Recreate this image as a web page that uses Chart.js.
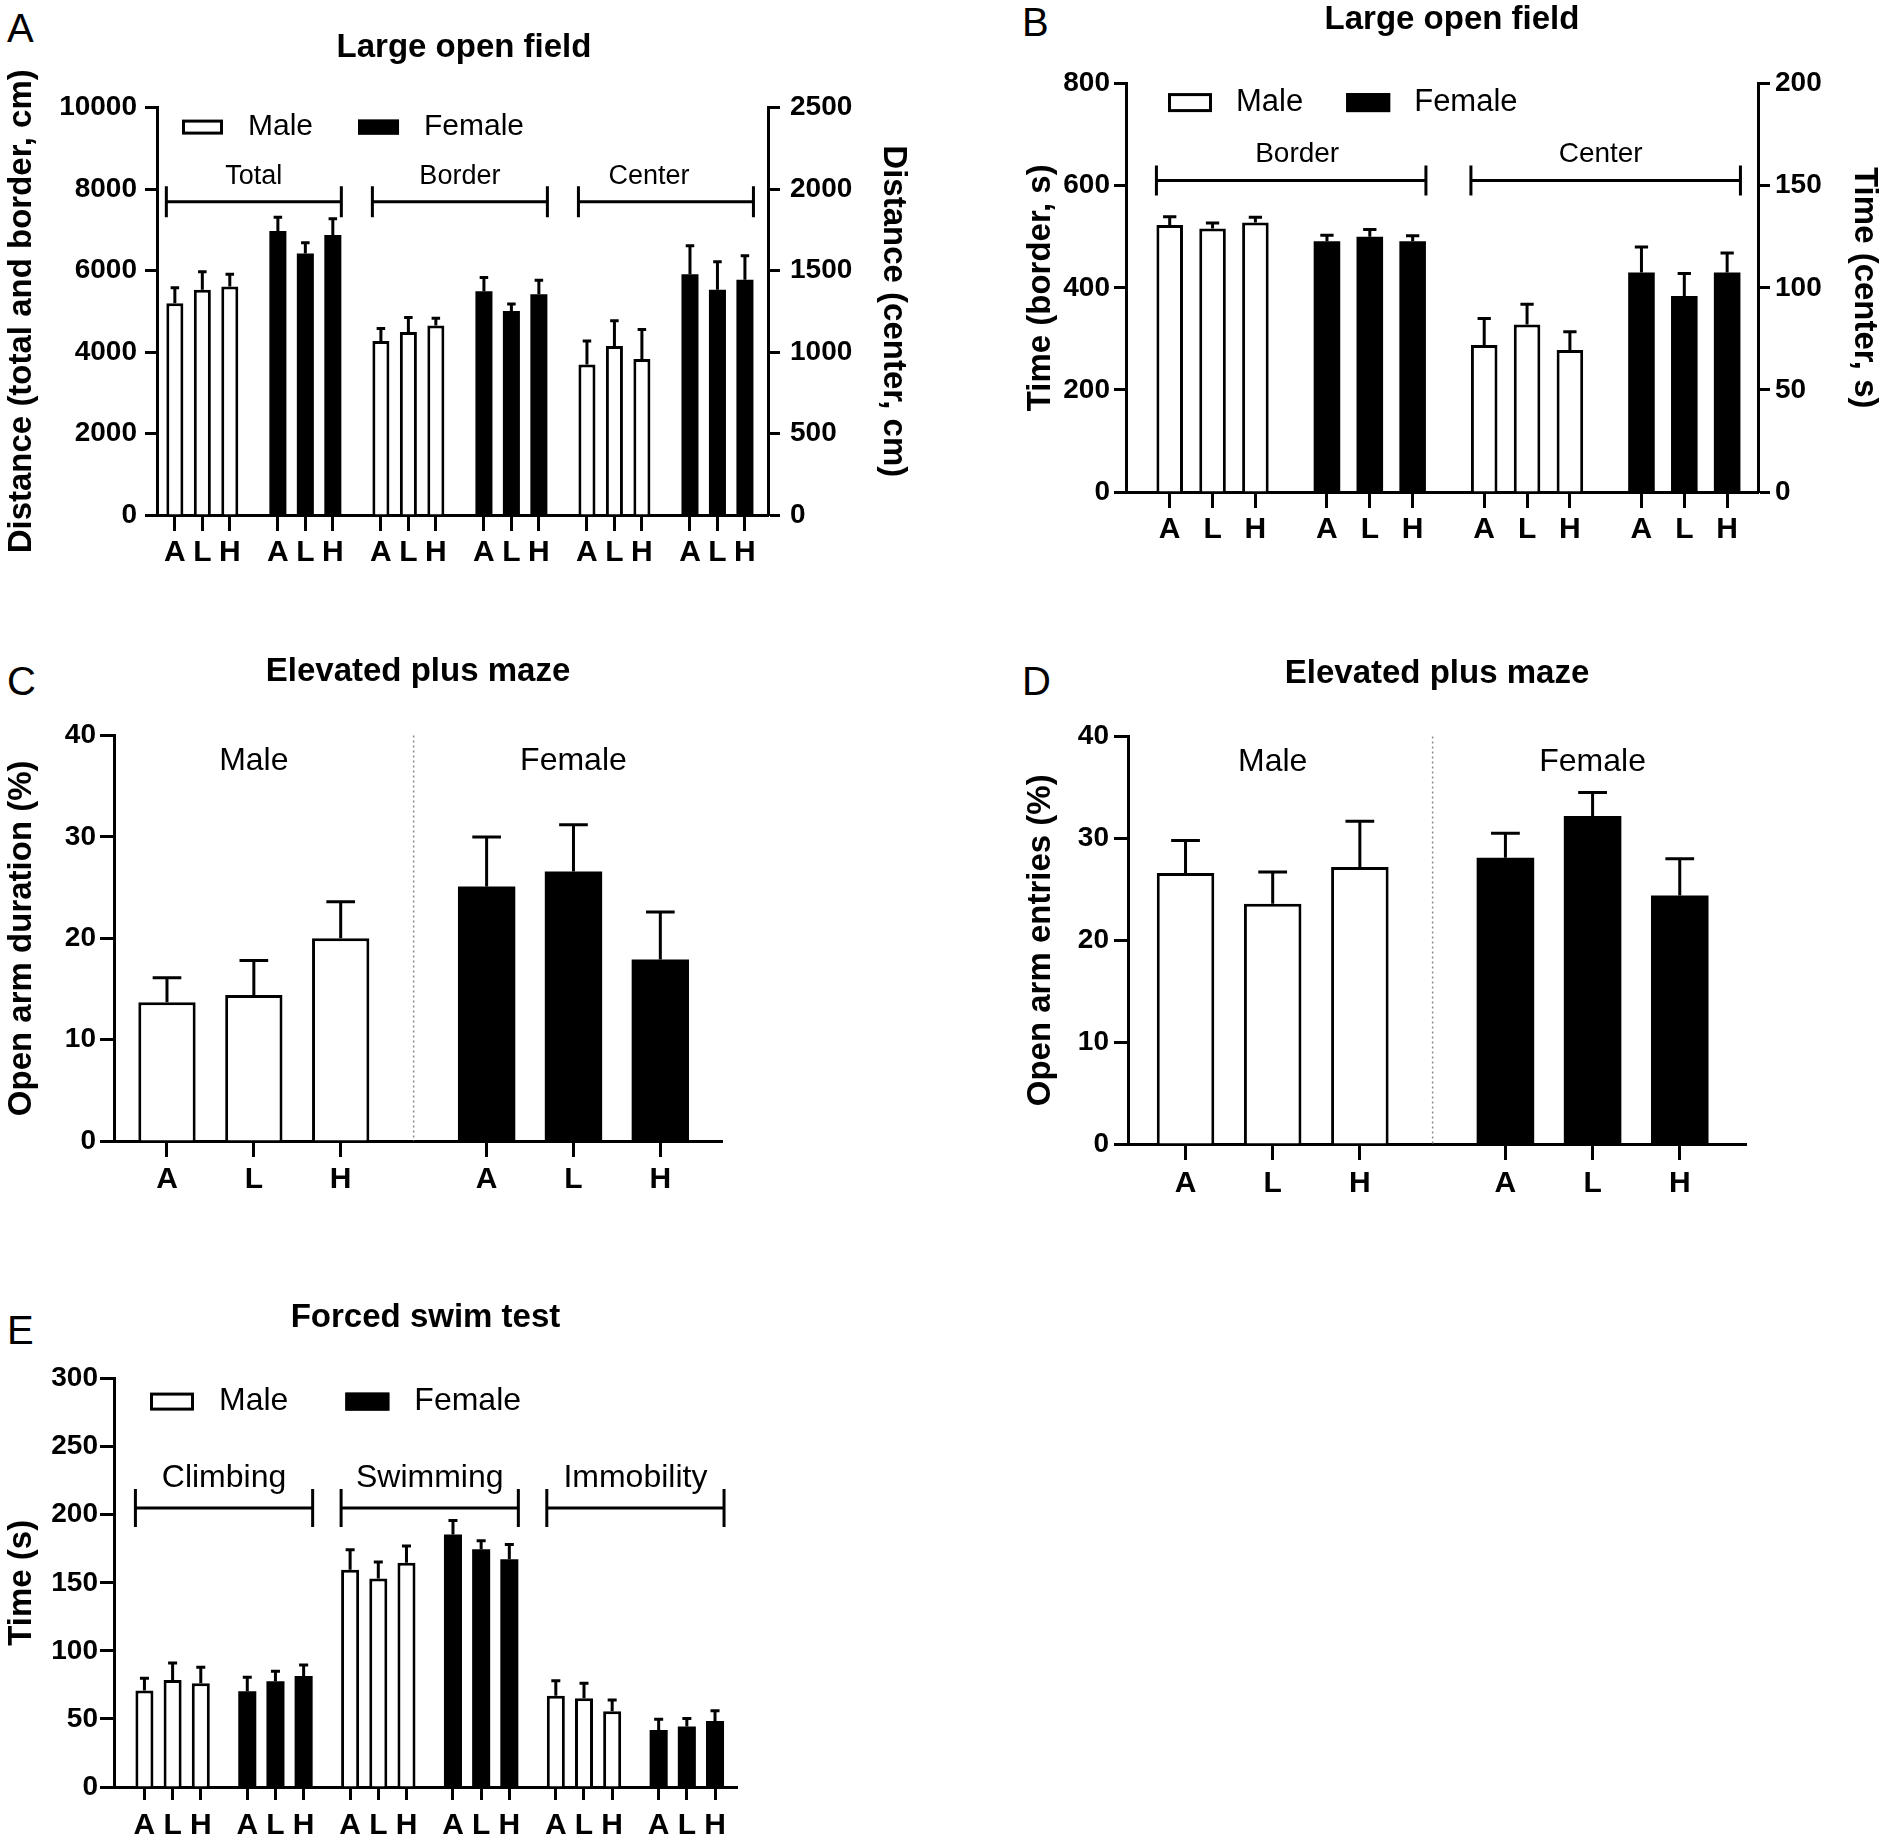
<!DOCTYPE html>
<html>
<head>
<meta charset="utf-8">
<script src="https://cdn.jsdelivr.net/npm/chart.js@4.4.1/dist/chart.umd.min.js"></script>
<style>
  body { margin: 0; background: #fff; width: 1888px; height: 1841px; position: relative; overflow: hidden;
         font-family: "Liberation Sans", Arial, sans-serif; }
  canvas { position: absolute; }
  .letter { position: absolute; font-size: 40px; line-height: 1; color: #000; }
</style>
</head>
<body>
<div class="letter" style="left:7px;top:8px">A</div>
<div class="letter" style="left:1022px;top:2px">B</div>
<div class="letter" style="left:7px;top:661px">C</div>
<div class="letter" style="left:1022px;top:661px">D</div>
<div class="letter" style="left:7px;top:1310px">E</div>

<canvas id="chartA" width="928" height="585" style="left:0;top:0"></canvas>
<canvas id="chartB" width="868" height="562" style="left:1020px;top:0"></canvas>
<canvas id="chartC" width="740" height="596" style="left:0;top:620px"></canvas>
<canvas id="chartD" width="746" height="599" style="left:1020px;top:620px"></canvas>
<canvas id="chartE" width="760" height="581" style="left:0;top:1260px"></canvas>

<script>
// dose groups on every x axis
const doses = ['A', 'L', 'H'];

// A: large open field, distance (cm). Total and Border on left axis, Center on right axis
const distGroups = ['Total', 'Border', 'Center'];
const distMale      = [5200, 5530, 5610, 4270, 4490, 4650, 923, 1037, 957];
const distMaleSem   = [380, 440, 300, 310, 360, 180, 144, 155, 182];
const distFemale    = [6970, 6420, 6870, 5490, 5010, 5420, 1477, 1383, 1443];
const distFemaleSem = [340, 260, 400, 340, 170, 340, 175, 171, 148];

// B: large open field, time (s). Border on left axis, Center on right axis
const timeGroups = ['Border', 'Center'];
const timeMale      = [523, 516, 528, 72, 82, 69.5];
const timeMaleSem   = [16, 11, 10, 13, 10, 9];
const timeFemale    = [491, 500, 491, 107.5, 96, 107.5];
const timeFemaleSem = [12, 14, 11, 12.5, 11, 9.5];

// C: elevated plus maze, open arm duration (%)
const durMale      = [13.7, 14.4, 20.0];
const durMaleSem   = [2.4, 3.4, 3.6];
const durFemale    = [25.1, 26.6, 17.9];
const durFemaleSem = [4.9, 4.6, 4.7];

// D: elevated plus maze, open arm entries (%)
const entMale      = [26.6, 23.6, 27.2];
const entMaleSem   = [3.2, 3.1, 4.5];
const entFemale    = [28.1, 32.2, 24.4];
const entFemaleSem = [2.4, 2.3, 3.6];

// E: forced swim test, time (s)
const swimGroups = ['Climbing', 'Swimming', 'Immobility'];
const swimMale      = [70.9, 78.6, 76.3, 159.6, 153.1, 164.7, 67.0, 65.2, 55.6];
const swimMaleSem   = [9.0, 12.4, 11.6, 14.7, 12.1, 12.4, 11.1, 11.1, 8.3];
const swimFemale    = [70.3, 77.6, 81.5, 185.4, 174.6, 167.3, 41.9, 44.5, 48.4];
const swimFemaleSem = [10.4, 7.5, 8.2, 10.4, 6.2, 10.9, 7.8, 5.9, 7.7];

const FONT = '"Liberation Sans", Arial, sans-serif';
Chart.defaults.font.family = FONT;
Chart.defaults.color = '#000';

// x position of bar i inside cluster c (clusters: male/female per group)
function barX(c, i, gap) { return c * (2 + gap) + i; }

function pts(vals, sex, firstGroup, gap) {
  return vals.map((v, j) => ({ x: barX(2 * (firstGroup + Math.floor(j / 3)) + sex, j % 3, gap), y: v }));
}

function barSet(label, vals, sem, sex, firstGroup, gap, axis, pct) {
  return {
    label: label, data: pts(vals, sex, firstGroup, gap), sem: sem, yAxisID: axis,
    backgroundColor: sex ? '#000' : '#fff', borderColor: '#000', borderWidth: sex ? 0 : 3,
    grouped: false, barPercentage: pct || 0.62, categoryPercentage: 1
  };
}

// error bars: upper SEM only, with a cap
const errorBars = {
  id: 'errorBars',
  afterDatasetsDraw(chart) {
    const ctx = chart.ctx;
    chart.data.datasets.forEach((ds, i) => {
      if (!ds.sem) return;
      const meta = chart.getDatasetMeta(i);
      const ys = chart.scales[meta.yAxisID];
      ctx.save();
      ctx.strokeStyle = '#000';
      ctx.lineWidth = 3;
      meta.data.forEach((bar, j) => {
        const top = ys.getPixelForValue(ds.data[j].y + ds.sem[j]);
        const half = bar.width * 0.25;
        ctx.beginPath();
        ctx.moveTo(bar.x, bar.y);
        ctx.lineTo(bar.x, top);
        ctx.moveTo(bar.x - half, top);
        ctx.lineTo(bar.x + half, top);
        ctx.stroke();
      });
      ctx.restore();
    });
  }
};

// horizontal brackets with a label over each measure
const brackets = {
  id: 'brackets',
  afterDraw(chart, args, o) {
    if (!o.groups) return;
    const ctx = chart.ctx, xs = chart.scales.x, ys = chart.scales.y;
    const half = chart.getDatasetMeta(0).data[0].width / 2;
    const py = ys.getPixelForValue(o.y);
    ctx.save();
    ctx.strokeStyle = '#000';
    ctx.fillStyle = '#000';
    ctx.lineWidth = 3;
    ctx.font = o.size + 'px ' + FONT;
    ctx.textAlign = 'center';
    ctx.textBaseline = 'middle';
    o.groups.forEach((label, k) => {
      const x0 = xs.getPixelForValue(barX(2 * k, 0, o.gap)) - half;
      const x1 = xs.getPixelForValue(barX(2 * k + 1, 2, o.gap)) + half;
      ctx.beginPath();
      ctx.moveTo(x0, py); ctx.lineTo(x1, py);
      ctx.moveTo(x0, py - o.cap); ctx.lineTo(x0, py + o.cap);
      ctx.moveTo(x1, py - o.cap); ctx.lineTo(x1, py + o.cap);
      ctx.stroke();
      const shift = o.labelShift ? o.labelShift[k] : 0;
      ctx.fillText(label, (x0 + x1) / 2 + shift, py - o.labelGap);
    });
    ctx.restore();
  }
};

// legend drawn inside the plot area
const insideLegend = {
  id: 'insideLegend',
  afterDraw(chart, args, o) {
    if (!o.items) return;
    const ctx = chart.ctx, ca = chart.chartArea;
    let x = ca.left + o.x;
    const cy = ca.top + o.y;
    ctx.save();
    ctx.font = o.size + 'px ' + FONT;
    ctx.textBaseline = 'middle';
    o.items.forEach(idx => {
      const ds = chart.data.datasets[idx];
      ctx.fillStyle = ds.backgroundColor;
      ctx.fillRect(x, cy - o.boxH / 2, o.boxW, o.boxH);
      ctx.strokeStyle = '#000';
      ctx.lineWidth = 3;
      ctx.strokeRect(x + 1.5, cy - o.boxH / 2 + 1.5, o.boxW - 3, o.boxH - 3);
      x += o.boxW + o.textGap;
      ctx.fillStyle = '#000';
      ctx.fillText(ds.label, x, cy);
      x += ctx.measureText(ds.label).width + o.itemGap;
    });
    ctx.restore();
  }
};

// dotted divider and sex labels (C, D)
const sexSplit = {
  id: 'sexSplit',
  afterDraw(chart, args, o) {
    if (!o.labels) return;
    const ctx = chart.ctx, ca = chart.chartArea, xs = chart.scales.x, ys = chart.scales.y;
    const px = xs.getPixelForValue((barX(0, 2, o.gap) + barX(1, 0, o.gap)) / 2);
    ctx.save();
    ctx.strokeStyle = '#8a8a8a';
    ctx.lineWidth = 1.5;
    ctx.setLineDash([2, 3]);
    ctx.beginPath();
    ctx.moveTo(px, ca.top);
    ctx.lineTo(px, ca.bottom);
    ctx.stroke();
    ctx.setLineDash([]);
    ctx.fillStyle = '#000';
    ctx.font = o.size + 'px ' + FONT;
    ctx.textAlign = 'center';
    ctx.textBaseline = 'middle';
    o.labels.forEach((t, c) => {
      ctx.fillText(t, xs.getPixelForValue(barX(c, 1, o.gap)), ys.getPixelForValue(o.y));
    });
    ctx.restore();
  }
};

function xAxis(o) {
  const pos = [];
  for (let c = 0; c < o.clusters; c++) for (let i = 0; i < 3; i++) pos.push(barX(c, i, o.gap));
  return {
    type: 'linear', offset: false, min: o.xMin, max: pos[pos.length - 1] + o.xEnd,
    afterBuildTicks: s => { s.ticks = pos.map(value => ({ value })); },
    afterFit: s => { s.height = o.xHeight; },
    ticks: { autoSkip: false, maxRotation: 0, padding: o.xPad, color: '#000',
             font: { size: 30, weight: 'bold' }, callback: (v, i) => doses[i % 3] },
    grid: { offset: false, drawOnChartArea: false, tickLength: o.xTick, tickWidth: 3, tickColor: '#000' },
    border: { color: '#000', width: 3 }
  };
}

function yAxis(position, a) {
  return {
    type: 'linear', position: position, min: 0, max: a.max,
    afterFit: s => { s.width = a.width; },
    ticks: { stepSize: a.step, padding: a.pad, color: '#000', font: { size: 28, weight: 'bold' },
             callback: v => String(v) },
    grid: { drawOnChartArea: false, tickLength: a.tick, tickWidth: 3, tickColor: '#000' },
    border: { color: '#000', width: 3 },
    title: { display: true, text: a.title, color: '#000', font: { size: 33, weight: 'bold' },
             padding: { top: a.titlePad, bottom: 0 } }
  };
}

function panel(id, o) {
  const scales = { x: xAxis(o), y: yAxis('left', o.left) };
  if (o.right) scales.y2 = yAxis('right', o.right);
  return new Chart(document.getElementById(id), {
    type: 'bar',
    data: { datasets: o.datasets },
    options: {
      responsive: false, animation: false, devicePixelRatio: 1,
      layout: { padding: o.padding || 0 },
      scales: scales,
      plugins: {
        legend: { display: false },
        tooltip: { enabled: false },
        title: { display: true, text: o.title, color: '#000', font: { size: 33, weight: 'bold' },
                 padding: o.titlePad, fullSize: o.fullTitle },
        insideLegend: o.legend || {},
        brackets: o.brackets || {},
        sexSplit: o.split || {}
      }
    },
    plugins: [errorBars, brackets, insideLegend, sexSplit]
  });
}

// ---- A ----
const gapA = 1.75;
panel('chartA', {
  title: 'Large open field', titlePad: { top: 28, bottom: 40 }, fullTitle: true,
  clusters: 6, gap: gapA, xMin: -0.65, xEnd: 0.84, xHeight: 70, xTick: 16, xPad: 4,
  left: { max: 10000, step: 2000, title: 'Distance (total and border, cm)', titlePad: 2, tick: 12, pad: 8, width: 157 },
  right: { max: 2500, step: 500, title: 'Distance (center, cm)', titlePad: 15, tick: 12, pad: 10, width: 160 },
  datasets: [
    barSet('Male', distMale.slice(0, 6), distMaleSem.slice(0, 6), 0, 0, gapA, 'y'),
    barSet('Female', distFemale.slice(0, 6), distFemaleSem.slice(0, 6), 1, 0, gapA, 'y'),
    barSet('Male', distMale.slice(6), distMaleSem.slice(6), 0, 2, gapA, 'y2'),
    barSet('Female', distFemale.slice(6), distFemaleSem.slice(6), 1, 2, gapA, 'y2')
  ],
  legend: { items: [0, 1], x: 25, y: 19.5, boxW: 41, boxH: 15, textGap: 25, itemGap: 45, size: 30 },
  brackets: { groups: distGroups, gap: gapA, y: 7690, cap: 15.5, labelGap: 25, size: 27, labelShift: [0, 0, -17] }
});

// ---- B ----
const gapB = 1.67;
panel('chartB', {
  title: 'Large open field', titlePad: { top: 0, bottom: 44 }, fullTitle: true, padding: { right: 4 },
  clusters: 4, gap: gapB, xMin: -1.02, xEnd: 0.72, xHeight: 70, xTick: 16, xPad: 4,
  left: { max: 800, step: 200, title: 'Time (border, s)', titlePad: 1, tick: 12, pad: 4, width: 106 },
  right: { max: 200, step: 50, title: 'Time (center, s)', titlePad: 0, tick: 12, pad: 5, width: 126 },
  datasets: [
    barSet('Male', timeMale.slice(0, 3), timeMaleSem.slice(0, 3), 0, 0, gapB, 'y'),
    barSet('Female', timeFemale.slice(0, 3), timeFemaleSem.slice(0, 3), 1, 0, gapB, 'y'),
    barSet('Male', timeMale.slice(3), timeMaleSem.slice(3), 0, 1, gapB, 'y2'),
    barSet('Female', timeFemale.slice(3), timeFemaleSem.slice(3), 1, 1, gapB, 'y2')
  ],
  legend: { items: [0, 1], x: 42, y: 19, boxW: 44, boxH: 19, textGap: 24, itemGap: 43, size: 31 },
  brackets: { groups: timeGroups, gap: gapB, y: 610, cap: 15, labelGap: 26, size: 28, labelShift: [6, -5] }
});

// ---- C ----
const gapC = 1.68;
panel('chartC', {
  title: 'Elevated plus maze', titlePad: { top: 32, bottom: 44 }, fullTitle: false, padding: { right: 18 },
  clusters: 2, gap: gapC, xMin: -0.61, xEnd: 0.71, xHeight: 75, xTick: 16, xPad: 5,
  left: { max: 40, step: 10, title: 'Open arm duration (%)', titlePad: 2, tick: 14, pad: 4, width: 114 },
  datasets: [
    barSet('Male', durMale, durMaleSem, 0, 0, gapC, 'y', 0.66),
    barSet('Female', durFemale, durFemaleSem, 1, 0, gapC, 'y', 0.66)
  ],
  split: { labels: ['Male', 'Female'], gap: gapC, y: 37.5, size: 32 }
});

// ---- D ----
const gapD = 1.67;
panel('chartD', {
  title: 'Elevated plus maze', titlePad: { top: 34, bottom: 43 }, fullTitle: false, padding: { right: 20 },
  clusters: 2, gap: gapD, xMin: -0.66, xEnd: 0.76, xHeight: 75, xTick: 16, xPad: 6,
  left: { max: 40, step: 10, title: 'Open arm entries (%)', titlePad: 1, tick: 14, pad: 5, width: 108 },
  datasets: [
    barSet('Male', entMale, entMaleSem, 0, 0, gapD, 'y', 0.66),
    barSet('Female', entFemale, entFemaleSem, 1, 0, gapD, 'y', 0.66)
  ],
  split: { labels: ['Male', 'Female'], gap: gapD, y: 37.5, size: 32 }
});

// ---- E ----
const gapE = 1.65;
panel('chartE', {
  title: 'Forced swim test', titlePad: { top: 38, bottom: 41 }, fullTitle: false, padding: { right: 23 },
  clusters: 6, gap: gapE, xMin: -1.08, xEnd: 0.78, xHeight: 54, xTick: 13, xPad: 8,
  left: { max: 300, step: 50, title: 'Time (s)', titlePad: 2, tick: 14, pad: 2, width: 114 },
  datasets: [
    barSet('Male', swimMale, swimMaleSem, 0, 0, gapE, 'y', 0.64),
    barSet('Female', swimFemale, swimFemaleSem, 1, 0, gapE, 'y', 0.64)
  ],
  legend: { items: [0, 1], x: 36, y: 23, boxW: 44, boxH: 18, textGap: 25, itemGap: 57, size: 32 },
  brackets: { groups: swimGroups, gap: gapE, y: 205, cap: 19, labelGap: 30, size: 32 }
});
</script>
</body>
</html>
